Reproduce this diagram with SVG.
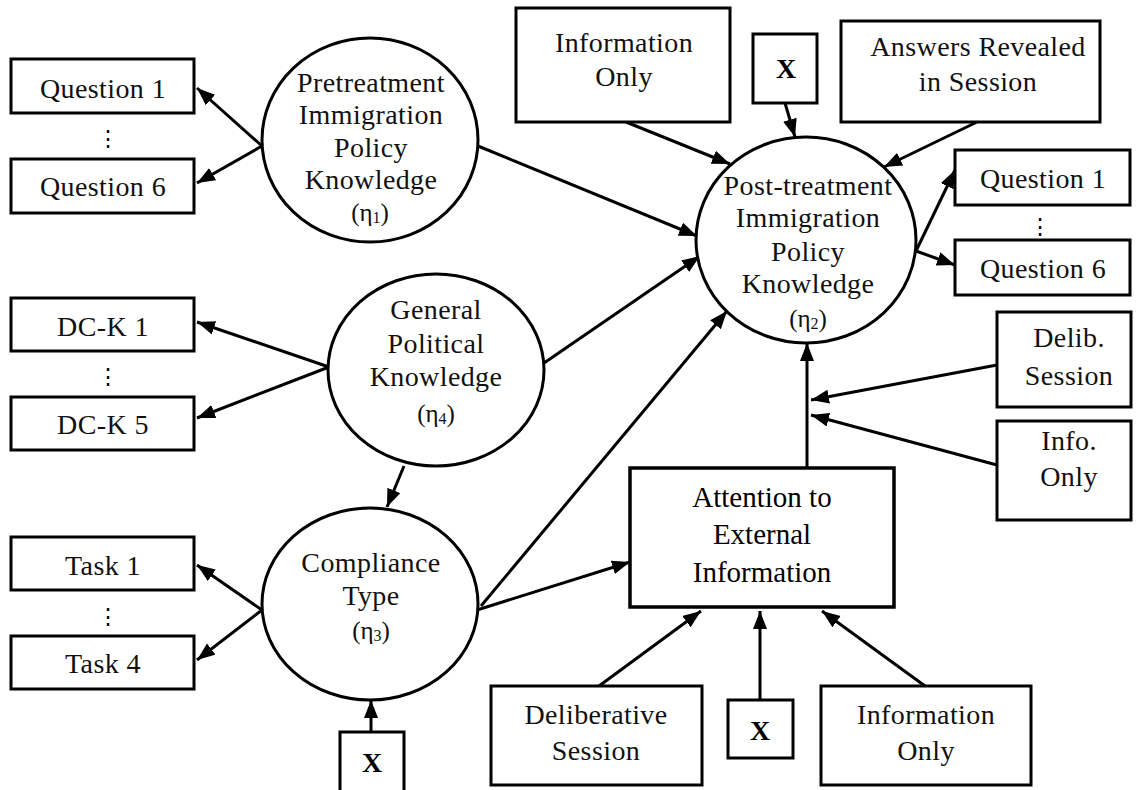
<svg xmlns="http://www.w3.org/2000/svg" width="1136" height="790" viewBox="0 0 1136 790">
<defs>
<marker id="ah" markerUnits="userSpaceOnUse" markerWidth="20" markerHeight="16" refX="18" refY="7" orient="auto"><path d="M0,0 L18,7 L0,14 z" fill="#000"/></marker>
<style>
.b{fill:#fff;stroke:#000;stroke-width:3}
.c{fill:#fff;stroke:#000;stroke-width:3}
text{font-family:'Liberation Serif','DejaVu Serif','Times New Roman',serif;text-anchor:middle}
.t{font-size:28px;letter-spacing:0.4px;fill:#111}
.tt{font-size:29px;fill:#000}
.x{font-size:28px;font-weight:bold;fill:#000}
.e{font-size:25px;fill:#111}
.d{font-family:'DejaVu Serif',serif;font-size:22px;fill:#000}
.l{fill:none;stroke:#000;stroke-width:3;marker-end:url(#ah)}
</style>
</defs>
<rect width="1136" height="790" fill="#fff"/>
<g id="connectors">
<line class="l" x1="262" y1="146" x2="197" y2="88"/>
<line class="l" x1="262" y1="146" x2="197" y2="183"/>
<line class="l" x1="478" y1="146" x2="697" y2="236"/>
<line class="l" x1="329" y1="367" x2="197" y2="322"/>
<line class="l" x1="329" y1="367" x2="197" y2="418"/>
<line class="l" x1="544" y1="363" x2="700" y2="256"/>
<line class="l" x1="404" y1="466" x2="387" y2="507"/>
<line class="l" x1="262" y1="610" x2="197" y2="565"/>
<line class="l" x1="262" y1="610" x2="197" y2="660"/>
<line class="l" x1="481" y1="606" x2="727" y2="311"/>
<line class="l" x1="477" y1="610" x2="630" y2="562"/>
<line class="l" x1="371" y1="732" x2="371" y2="700"/>
<line class="l" x1="599" y1="686" x2="701" y2="611"/>
<line class="l" x1="760" y1="700" x2="760" y2="611"/>
<line class="l" x1="925" y1="686" x2="822" y2="611"/>
<line class="l" x1="807" y1="468" x2="807" y2="343"/>
<line class="l" x1="997" y1="365" x2="811" y2="400"/>
<line class="l" x1="997" y1="465" x2="811" y2="415"/>
<line class="l" x1="626" y1="122" x2="730" y2="164"/>
<line class="l" x1="785" y1="103" x2="795" y2="137"/>
<line class="l" x1="977" y1="122" x2="884" y2="167"/>
<line class="l" x1="916" y1="251" x2="955" y2="170"/>
<line class="l" x1="916" y1="251" x2="955" y2="265"/>
</g>
<g id="q1l"><rect class="b" x="11" y="59" width="183" height="54"/><text class="t" x="103" y="98">Question 1</text></g>
<text class="d" x="108" y="146">⋮</text>
<g id="q6l"><rect class="b" x="11" y="159" width="183" height="54"/><text class="t" x="103" y="196">Question 6</text></g>
<g id="dck1"><rect class="b" x="11" y="298" width="183" height="53"/><text class="t" x="103" y="336">DC-K 1</text></g>
<text class="d" x="108" y="384">⋮</text>
<g id="dck5"><rect class="b" x="11" y="397" width="183" height="53"/><text class="t" x="103" y="434">DC-K 5</text></g>
<g id="task1"><rect class="b" x="11" y="537" width="183" height="53"/><text class="t" x="103" y="575">Task 1</text></g>
<text class="d" x="108" y="624">⋮</text>
<g id="task4"><rect class="b" x="11" y="636" width="183" height="53"/><text class="t" x="103" y="673">Task 4</text></g>
<g id="pretreatment"><ellipse class="c" cx="370" cy="140" rx="108" ry="102"/>
<text class="t" x="371" y="92">Pretreatment</text>
<text class="t" x="371" y="124">Immigration</text>
<text class="t" x="371" y="157">Policy</text>
<text class="t" x="371" y="189">Knowledge</text>
<text class="e" x="370" y="221">(η<tspan font-size="16" dy="2">1</tspan><tspan dy="-2">)</tspan></text></g>
<g id="general"><ellipse class="c" cx="436" cy="370" rx="108" ry="96"/>
<text class="t" x="436" y="319">General</text>
<text class="t" x="436" y="353">Political</text>
<text class="t" x="436" y="386">Knowledge</text>
<text class="e" x="436" y="422">(η<tspan font-size="16" dy="2">4</tspan><tspan dy="-2">)</tspan></text></g>
<g id="compliance"><ellipse class="c" cx="370" cy="604" rx="108" ry="96"/>
<text class="t" x="371" y="572">Compliance</text>
<text class="t" x="371" y="605">Type</text>
<text class="e" x="371" y="639">(η<tspan font-size="16" dy="2">3</tspan><tspan dy="-2">)</tspan></text></g>
<g id="posttreatment"><ellipse class="c" cx="806" cy="240" rx="110" ry="103"/>
<text class="t" x="808" y="195">Post-treatment</text>
<text class="t" x="808" y="227">Immigration</text>
<text class="t" x="808" y="261">Policy</text>
<text class="t" x="808" y="293">Knowledge</text>
<text class="e" x="808" y="327">(η<tspan font-size="16" dy="2">2</tspan><tspan dy="-2">)</tspan></text></g>
<g id="infoTop"><rect class="b" x="516" y="8" width="214" height="114"/><text class="t" x="624" y="52">Information</text><text class="t" x="624" y="86">Only</text></g>
<g id="xTop"><rect class="b" x="753" y="34" width="64" height="69"/><text class="x" x="786" y="78">X</text></g>
<g id="answers"><rect class="b" x="841" y="21" width="259" height="101"/><text class="t" x="978" y="56">Answers Revealed</text><text class="t" x="978" y="91">in Session</text></g>
<g id="q1r"><rect class="b" x="955" y="150" width="175" height="55"/><text class="t" x="1043" y="188">Question 1</text></g>
<text class="d" x="1040" y="234">⋮</text>
<g id="q6r"><rect class="b" x="955" y="240" width="175" height="55"/><text class="t" x="1043" y="278">Question 6</text></g>
<g id="delib"><rect class="b" x="997" y="312" width="134" height="95"/><text class="t" x="1069" y="347">Delib.</text><text class="t" x="1069" y="385">Session</text></g>
<g id="infoRight"><rect class="b" x="997" y="421" width="134" height="99"/><text class="t" x="1069" y="450">Info.</text><text class="t" x="1069" y="486">Only</text></g>
<g id="attention"><rect class="b" x="630" y="468" width="264" height="139" style="stroke-width:3.5"/>
<text class="tt" x="762" y="507">Attention to</text>
<text class="tt" x="762" y="544">External</text>
<text class="tt" x="762" y="582">Information</text></g>
<g id="delibBottom"><rect class="b" x="491" y="686" width="211" height="99"/><text class="t" x="596" y="724">Deliberative</text><text class="t" x="596" y="760">Session</text></g>
<g id="xBottom"><rect class="b" x="728" y="700" width="65" height="58"/><text class="x" x="760" y="740">X</text></g>
<g id="infoBottom"><rect class="b" x="821" y="686" width="210" height="99"/><text class="t" x="926" y="724">Information</text><text class="t" x="926" y="760">Only</text></g>
<g id="xCompliance"><rect class="b" x="340" y="732" width="64" height="62"/><text class="x" x="372" y="772">X</text></g>
</svg>
